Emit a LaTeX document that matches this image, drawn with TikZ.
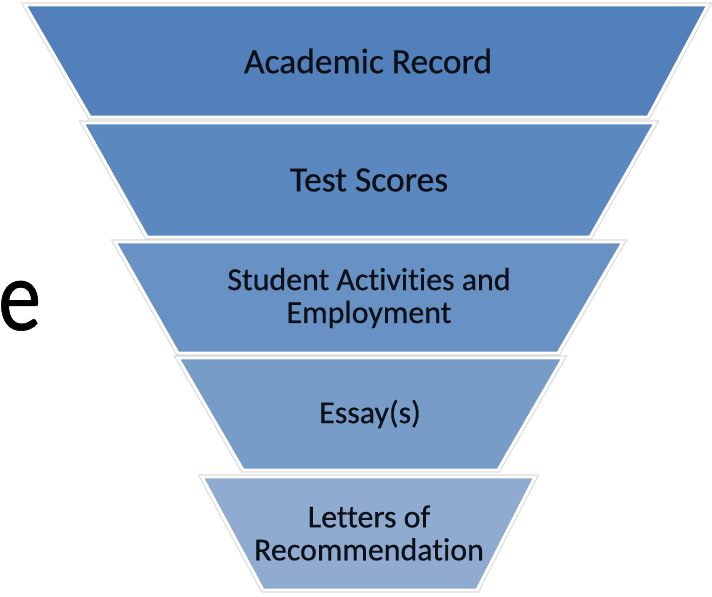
\documentclass[tikz,border=0pt]{standalone}
\usepackage{fontspec}
\setmainfont{Carlito}[Ligatures=NoCommon,FakeBold=0.6]
\definecolor{stageA}{RGB}{82,128,187}
\definecolor{stageB}{RGB}{90,136,191}
\definecolor{stageC}{RGB}{104,146,196}
\definecolor{stageD}{RGB}{120,156,200}
\definecolor{stageE}{RGB}{143,171,208}
\definecolor{stagetxt}{RGB}{14,16,24}
\tikzset{
  stage/.style={draw=white,line width=2.1pt,line join=miter},
  stageshadow/.style={draw=black!35,line width=3.8pt,line join=miter,opacity=0.4},
  stagetext/.style={text=stagetxt,align=center,inner sep=0pt,font=\fontsize{22.7}{23.4}\selectfont},
  stagetextbig/.style={stagetext,font=\fontsize{25.2}{26}\selectfont},
}
\begin{document}
\begin{tikzpicture}[x=0.025cm,y=-0.025cm]
	\useasboundingbox (0,0) rectangle (712,597);
	\coordinate (A1) at (25,5);
	\coordinate (B1) at (708,5);
	\coordinate (C1) at (648,117);
	\coordinate (D1) at (90,117);
	\coordinate (A2) at (83,123);
	\coordinate (B2) at (655,123);
	\coordinate (C2) at (590,237);
	\coordinate (D2) at (147,237);
	\coordinate (A3) at (115,242);
	\coordinate (B3) at (623,242);
	\coordinate (C3) at (558,353);
	\coordinate (D3) at (178,353);
	\coordinate (A4) at (178,358);
	\coordinate (B4) at (563,358);
	\coordinate (C4) at (498,470);
	\coordinate (D4) at (243,470);
	\coordinate (A5) at (202,477);
	\coordinate (B5) at (535,477);
	\coordinate (C5) at (477,590);
	\coordinate (D5) at (263,590);
	% funnel, top to bottom
	\draw [stageshadow] (A1) -- (B1) -- (C1) -- (D1) -- cycle;
	\draw [stage,fill=stageA] (A1) -- (B1) -- (C1) -- (D1) -- cycle;
	\draw [stageshadow] (A2) -- (B2) -- (C2) -- (D2) -- cycle;
	\draw [stage,fill=stageB] (A2) -- (B2) -- (C2) -- (D2) -- cycle;
	\draw [stageshadow] (A3) -- (B3) -- (C3) -- (D3) -- cycle;
	\draw [stage,fill=stageC] (A3) -- (B3) -- (C3) -- (D3) -- cycle;
	\draw [stageshadow] (A4) -- (B4) -- (C4) -- (D4) -- cycle;
	\draw [stage,fill=stageD] (A4) -- (B4) -- (C4) -- (D4) -- cycle;
	\draw [stageshadow] (A5) -- (B5) -- (C5) -- (D5) -- cycle;
	\draw [stage,fill=stageE] (A5) -- (B5) -- (C5) -- (D5) -- cycle;
	\node [stagetextbig] (record) at (368,61) {Academic Record};
	\node [stagetextbig] (scores) at (369,180) {Test Scores};
	\node [stagetext] (activities) at (369,298) {Student Activities and\\Employment};
	\node [stagetext] (essays) at (370,414) {Essay(s)};
	\node [stagetext] (letters) at (369,533) {Letters of\\Recommendation};
	% letter at the left edge
	\node [anchor=base west,inner sep=0pt,xscale=0.85,font=\fontsize{72}{76}\selectfont] (side) at (-2,330) {e};
\end{tikzpicture}
\end{document}
